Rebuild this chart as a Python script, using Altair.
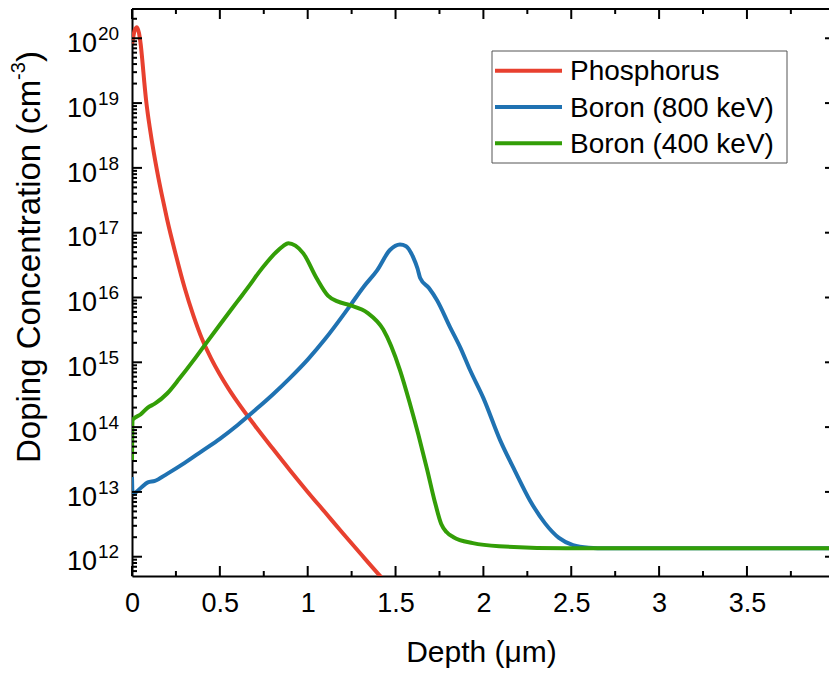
import altair as alt
import pandas as pd

# ---- implant profiles: depth (µm) vs. doping concentration (cm^-3) ----
phos_depth = [0.000, 0.015, 0.028, 0.040, 0.050, 0.060, 0.070, 0.080, 0.090, 0.100,
              0.125, 0.150, 0.176, 0.200, 0.250, 0.300, 0.350, 0.400, 0.450, 0.500,
              0.550, 0.600, 0.700, 0.800, 0.900, 1.000, 1.100, 1.200, 1.300, 1.400,
              1.450]
phos_conc = [7.9e19, 1.32e20, 1.48e20, 1.2e20, 7.9e19, 4.2e19, 2.1e19, 1.12e19, 6.8e18, 4.4e18,
             1.66e18, 7.1e17, 3.2e17, 1.6e17, 4.5e16, 1.4e16, 5.2e15, 2.24e15, 1.15e15, 6.5e14,
             3.9e14, 2.45e14, 1.05e14, 4.7e13, 2.14e13, 1.0e13, 4.8e12, 2.3e12, 1.12e12, 5.5e11,
             3.9e11]

b800_depth = [0.000, 0.003, 0.050, 0.090, 0.130, 0.200, 0.300, 0.400, 0.500, 0.600,
              0.700, 0.800, 0.900, 1.000, 1.100, 1.200, 1.240, 1.320, 1.394,
              1.468, 1.525, 1.560, 1.600, 1.625, 1.640, 1.690, 1.736, 1.810, 1.870,
              1.924, 2.000, 2.095, 2.180, 2.265, 2.350, 2.430, 2.510, 2.600, 2.700,
              3.000, 3.970]
b800_conc = [1.7e13, 9.3e12, 1.15e13, 1.4e13, 1.48e13, 1.9e13, 2.8e13, 4.3e13, 6.6e13, 1.07e14,
             1.82e14, 3.16e14, 5.75e14, 1.1e15, 2.3e15, 5.25e15, 7.4e15, 1.48e16, 2.6e16,
             5.4e16, 6.6e16, 6.2e16, 4.2e16, 2.8e16, 2.0e16, 1.4e16, 9.1e15, 3.5e15, 1.66e15,
             7.6e14, 2.8e14, 6.3e13, 2.1e13, 7.4e12, 3.3e12, 1.95e12, 1.51e12, 1.38e12, 1.35e12,
             1.35e12, 1.35e12]

b400_depth = [0.000, 0.003, 0.050, 0.090, 0.130, 0.200, 0.270, 0.350, 0.415, 0.500,
              0.600, 0.672, 0.720, 0.767, 0.820, 0.860, 0.890, 0.930, 0.975, 1.050,
              1.115, 1.170, 1.240, 1.340, 1.430, 1.525, 1.580, 1.630, 1.680, 1.725,
              1.760, 1.790, 1.830, 1.940, 2.090, 2.470, 3.970]
b400_conc = [3.1e13, 1.29e14, 1.58e14, 2.0e14, 2.3e14, 3.3e14, 5.6e14, 1.07e15, 1.86e15, 3.8e15,
             8.7e15, 1.58e16, 2.4e16, 3.47e16, 5.0e16, 6.2e16, 6.9e16, 6.3e16, 4.8e16, 2.0e16,
             1.07e16, 8.7e15, 7.6e15, 5.8e15, 3.2e15, 7.6e14, 2.4e14, 7.6e13, 2.2e13, 6.8e12,
             3.2e12, 2.4e12, 2.0e12, 1.62e12, 1.45e12, 1.35e12, 1.35e12]

series_names = ["Phosphorus", "Boron (800 keV)", "Boron (400 keV)"]
series_colors = ["#E8402F", "#1F72B2", "#339E07"]

# ---- axis ticks ----
x_major = [0, 0.5, 1, 1.5, 2, 2.5, 3, 3.5]
x_minor = [0.25, 0.75, 1.25, 1.75, 2.25, 2.75, 3.25, 3.75]
y_exponents = [12, 13, 14, 15, 16, 17, 18, 19, 20]
y_lo, y_hi = 5.04e11, 2.83e20
y_minor = [m * 10.0 ** e for e in range(11, 21) for m in range(2, 10)
           if y_lo <= m * 10.0 ** e <= y_hi]

W, H = 697, 567
FONT = "Liberation Sans"

profiles = pd.concat([
    pd.DataFrame({"depth": d, "conc": c, "series": n})
    for d, c, n in zip([phos_depth, b800_depth, b400_depth],
                       [phos_conc, b800_conc, b400_conc], series_names)
], ignore_index=True)

x_scale = alt.Scale(domain=[0, 3.967], nice=False, zero=False)
y_scale = alt.Scale(type="log", domain=[y_lo, y_hi], nice=False)

lines = alt.Chart(profiles).mark_line(strokeWidth=4, clip=True, interpolate="monotone").encode(
    x=alt.X("depth:Q", scale=x_scale,
            axis=alt.Axis(values=x_major, format="~g", title="Depth (μm)",
                          ticks=False, tickSize=0,
                          grid=False, domainColor="black", domainWidth=2,
                          labelFont=FONT, labelFontSize=27, labelColor="black",
                          labelPadding=14, labelFlush=False, labelOverlap=False,
                          titleFont=FONT, titleFontSize=30, titleFontWeight="normal",
                          titleColor="black", titleBaseline="alphabetic",
                          titleX=349, titleY=85)),
    y=alt.Y("conc:Q", scale=y_scale,
            axis=alt.Axis(labels=False, ticks=False, grid=False, title=None,
                          domainColor="black", domainWidth=2)),
    color=alt.Color("series:N", scale=alt.Scale(domain=series_names, range=series_colors),
                    legend=None),
    detail="series:N",
)

# inward tick marks on all four sides
xmaj = pd.DataFrame({"v": x_major})
xmin = pd.DataFrame({"v": x_minor})
ymaj = pd.DataFrame({"v": [10.0 ** e for e in y_exponents]})
ymin = pd.DataFrame({"v": y_minor})


def xticks(df, y0, y1):
    return alt.Chart(df).mark_rule(color="black", strokeWidth=2).encode(
        x=alt.X("v:Q", scale=x_scale, axis=None), y=alt.value(y0), y2=alt.value(y1))


def yticks(df, x0, x1):
    return alt.Chart(df).mark_rule(color="black", strokeWidth=2).encode(
        y=alt.Y("v:Q", scale=y_scale, axis=None), x=alt.value(x0), x2=alt.value(x1))


ticks = [
    xticks(xmaj, H, H - 10), xticks(xmin, H, H - 5),
    xticks(xmaj, 0, 10), xticks(xmin, 0, 5),
    yticks(ymaj, 0, 10), yticks(ymin, 0, 5),
    yticks(ymaj, W - 4, W),
]

one = pd.DataFrame({"a": [0]})
top_frame = alt.Chart(one).mark_rule(color="black", strokeWidth=2).encode(
    x=alt.value(0), x2=alt.value(W), y=alt.value(0))

# power-of-ten tick labels: "10" with a raised exponent
ylab = pd.DataFrame({"v": [10.0 ** e for e in y_exponents],
                     "base": ["10"] * len(y_exponents),
                     "exp": [str(e) for e in y_exponents]})
ylab_base = alt.Chart(ylab).mark_text(font=FONT, fontSize=27, align="right",
                                      baseline="alphabetic", dy=13.7, color="black").encode(
    y=alt.Y("v:Q", scale=y_scale, axis=None), x=alt.value(-35), text="base:N")
ylab_exp = alt.Chart(ylab).mark_text(font=FONT, fontSize=19, align="left",
                                     baseline="alphabetic", dy=1.7, dx=1, color="black").encode(
    y=alt.Y("v:Q", scale=y_scale, axis=None), x=alt.value(-35), text="exp:N")


# rotated y-axis title with superscript unit
def ytitle(text, x, y, size):
    return alt.Chart(one).mark_text(font=FONT, fontSize=size, angle=270, align="left",
                                    baseline="alphabetic", color="black").encode(
        x=alt.value(x), y=alt.value(y), text=alt.value(text))


ytitle_parts = [
    ytitle("Doping Concentration (cm", -92, 454, 33),
    ytitle("-3", -107, 71, 20),
    ytitle(")", -92, 53, 33),
]

# legend box
legend = [alt.Chart(one).mark_rect(fill="white", stroke="#555555", strokeWidth=1).encode(
    x=alt.value(360), x2=alt.value(655), y=alt.value(42), y2=alt.value(154))]
for i, (name, col) in enumerate(zip(series_names, series_colors)):
    legend.append(alt.Chart(one).mark_rule(color=col, strokeWidth=4).encode(
        x=alt.value(363), x2=alt.value(430), y=alt.value(61.7 + 36.3 * i)))
    legend.append(alt.Chart(one).mark_text(font=FONT, fontSize=28, align="left",
                                           baseline="alphabetic", color="black").encode(
        x=alt.value(438), y=alt.value(71.3 + 36.3 * i), text=alt.value(name)))

chart = alt.layer(
    lines, *ticks, top_frame, ylab_base, ylab_exp, *ytitle_parts, *legend
).resolve_axis(
    x="independent", y="independent"
).properties(
    width=W, height=H,
    autosize=alt.AutoSizeParams(type="none"),
    padding={"left": 132, "top": 9, "right": 0, "bottom": 97},
).configure_view(stroke=None).configure(background="white")

chart.save("out.html", embed_options={"renderer": "svg", "actions": False})
